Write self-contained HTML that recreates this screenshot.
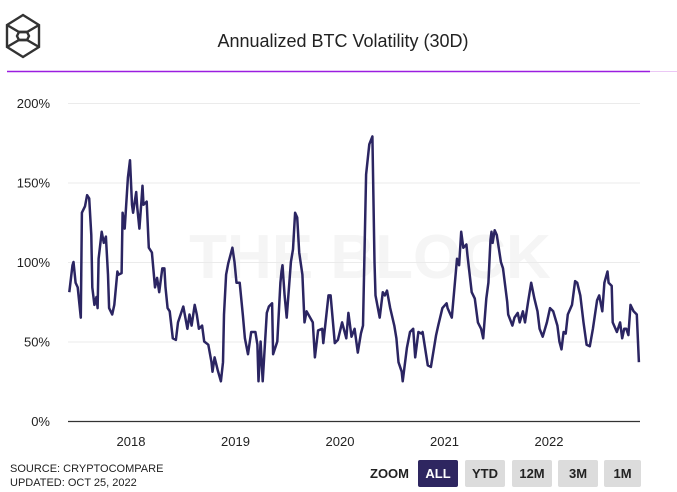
<!DOCTYPE html>
<html><head><meta charset="utf-8"><style>
body{margin:0;background:#fff;font-family:"Liberation Sans",sans-serif;}
#wrap{position:relative;width:677px;height:492px;overflow:hidden;}
.btn{position:absolute;top:460px;height:27px;line-height:27px;text-align:center;font-size:13px;font-weight:bold;background:#dcdcdc;color:#222;border-radius:2px;}
</style></head><body>
<div id="wrap">
<svg width="677" height="492" style="position:absolute;left:0;top:0" id="svg">
  <g fill="none" stroke="#333" stroke-width="2.4">
    <polygon points="23,15 39,25 39,47 23,57 7,47 7,25"/>
    <polyline points="7,25 19,32 27,32 39,25"/>
    <polyline points="7,47 19,40 27,40 39,47"/>
    <polygon points="19,32 27,32 29,36 27,40 19,40 17,36"/>
  </g>
  <text x="343" y="47" text-anchor="middle" font-size="18" fill="#222">Annualized BTC Volatility (30D)</text>
  <line x1="650" y1="71.5" x2="677" y2="71.5" stroke="#ebc8f5" stroke-width="1"/>
  <line x1="7" y1="71.5" x2="650" y2="71.5" stroke="#9b1de0" stroke-width="1.5"/>
  <text x="370" y="278" text-anchor="middle" font-size="62" font-weight="bold" fill="#f5f5f5">THE BLOCK</text>
  <g id="grid"></g><g id="xl"></g>
  <path id="line" fill="none" stroke="#2b2562" stroke-width="2.5" stroke-linejoin="round"/>
  <text x="10" y="472" font-size="11" fill="#222">SOURCE: CRYPTOCOMPARE</text>
  <text x="10" y="486" font-size="11" fill="#222">UPDATED: OCT 25, 2022</text>
  <text x="370" y="478" font-size="13" font-weight="bold" fill="#222">ZOOM</text>
</svg>
<div class="btn" style="left:418px;width:40px;background:#2e2660;color:#fff">ALL</div>
<div class="btn" style="left:465px;width:40px">YTD</div>
<div class="btn" style="left:512px;width:40px">12M</div>
<div class="btn" style="left:558px;width:40px">3M</div>
<div class="btn" style="left:604px;width:37px">1M</div>
</div>
<script>
const yTicks=[0,50,100,150,200];
const yTickLabels=["0%","50%","100%","150%","200%"];
const xTicks=[2018,2019,2020,2021,2022];
const dates=[2017.41,2017.44,2017.45,2017.47,2017.49,2017.52,2017.53,2017.56,2017.58,2017.60,2017.62,2017.63,2017.65,2017.67,2017.68,2017.69,2017.72,2017.74,2017.76,2017.78,2017.79,2017.82,2017.84,2017.87,2017.88,2017.91,2017.92,2017.94,2017.96,2017.97,2017.99,2018.01,2018.02,2018.05,2018.06,2018.08,2018.10,2018.11,2018.12,2018.15,2018.17,2018.20,2018.23,2018.25,2018.27,2018.30,2018.32,2018.33,2018.35,2018.37,2018.40,2018.43,2018.45,2018.50,2018.54,2018.56,2018.58,2018.61,2018.63,2018.65,2018.68,2018.70,2018.74,2018.77,2018.78,2018.80,2018.83,2018.86,2018.88,2018.89,2018.91,2018.93,2018.97,2018.99,2019.01,2019.04,2019.07,2019.09,2019.12,2019.15,2019.19,2019.21,2019.22,2019.24,2019.26,2019.30,2019.32,2019.35,2019.36,2019.40,2019.43,2019.44,2019.45,2019.47,2019.49,2019.53,2019.55,2019.57,2019.59,2019.61,2019.64,2019.66,2019.68,2019.74,2019.76,2019.79,2019.83,2019.84,2019.89,2019.91,2019.95,2019.98,2020.02,2020.06,2020.08,2020.11,2020.14,2020.17,2020.20,2020.22,2020.25,2020.28,2020.31,2020.33,2020.34,2020.38,2020.41,2020.43,2020.45,2020.48,2020.52,2020.54,2020.56,2020.59,2020.60,2020.64,2020.67,2020.70,2020.72,2020.75,2020.78,2020.79,2020.84,2020.87,2020.92,2020.94,2020.98,2021.02,2021.03,2021.07,2021.10,2021.12,2021.14,2021.16,2021.18,2021.21,2021.22,2021.26,2021.29,2021.32,2021.35,2021.37,2021.40,2021.42,2021.44,2021.45,2021.46,2021.48,2021.50,2021.54,2021.56,2021.60,2021.61,2021.65,2021.67,2021.70,2021.72,2021.75,2021.77,2021.80,2021.83,2021.86,2021.89,2021.91,2021.94,2021.98,2022.01,2022.04,2022.08,2022.10,2022.12,2022.14,2022.16,2022.18,2022.22,2022.25,2022.27,2022.30,2022.33,2022.36,2022.39,2022.42,2022.46,2022.48,2022.51,2022.53,2022.56,2022.57,2022.60,2022.61,2022.65,2022.68,2022.70,2022.72,2022.74,2022.76,2022.78,2022.81,2022.84,2022.86];
const vol=[81,98,100,87,84,65,131,135,142,140,117,84,73,78,71,102,119,112,116,92,71,67,73,94,92,93,131,121,142,153,164,136,131,144,134,121,138,148,136,138,109,106,84,90,81,96,96,84,71,69,52,51,62,72,58,67,60,73,67,58,60,50,48,37,31,40,32,25,37,67,92,99,109,100,87,87,67,52,42,56,56,48,25,50,25,68,72,74,42,50,87,94,98,79,65,100,108,131,128,106,92,62,69,62,40,57,58,49,79,79,49,51,62,52,68,53,58,43,55,60,155,174,179,100,79,65,81,79,82,71,60,52,37,31,25,46,56,58,40,56,55,56,35,34,54,60,71,74,71,65,87,102,98,119,109,111,104,81,77,62,58,52,77,87,114,119,112,120,117,100,96,75,67,60,65,68,62,69,62,75,87,77,69,58,53,62,71,69,60,50,45,56,55,67,73,88,87,79,62,48,47,58,76,79,69,87,94,87,85,62,56,62,52,58,58,54,73,69,67,37,27];
const X0=68,X1=640,Y0=421,Y1=103;
const xs=d=>131+(d-2018)*104.5;
const ys=v=>Y0-(v/200)*(Y0-Y1);
const NS="http://www.w3.org/2000/svg";
const grid=document.getElementById('grid');
yTicks.forEach((t,i)=>{
 const l=document.createElementNS(NS,'line');
 
 
 l.setAttribute('x1',X0);l.setAttribute('x2',X1);l.setAttribute('y1',ys(t)+.5);l.setAttribute('y2',ys(t)+.5);
 l.setAttribute('stroke',t===0?'#333':'#ebebeb');l.setAttribute('stroke-width',t===0?1.2:1);
 grid.appendChild(l);
 const tx=document.createElementNS(NS,'text');
 
 
 tx.setAttribute('x',50);tx.setAttribute('y',ys(t)+5);tx.setAttribute('text-anchor','end');
 tx.setAttribute('font-size','13');tx.setAttribute('fill','#222');tx.textContent=yTickLabels[i];
 grid.appendChild(tx);
});
const xl=document.getElementById('xl');
xTicks.forEach(t=>{
 const tx=document.createElementNS(NS,'text');
 
 
 tx.setAttribute('x',xs(t));tx.setAttribute('y',446);tx.setAttribute('text-anchor','middle');
 tx.setAttribute('font-size','13');tx.setAttribute('fill','#222');tx.textContent=t;
 xl.appendChild(tx);
});
document.getElementById('line').setAttribute('d',dates.map((d,i)=>(i?'L':'M')+xs(d).toFixed(1)+','+ys(vol[i]).toFixed(1)).join(''));
</script>
</body></html>
